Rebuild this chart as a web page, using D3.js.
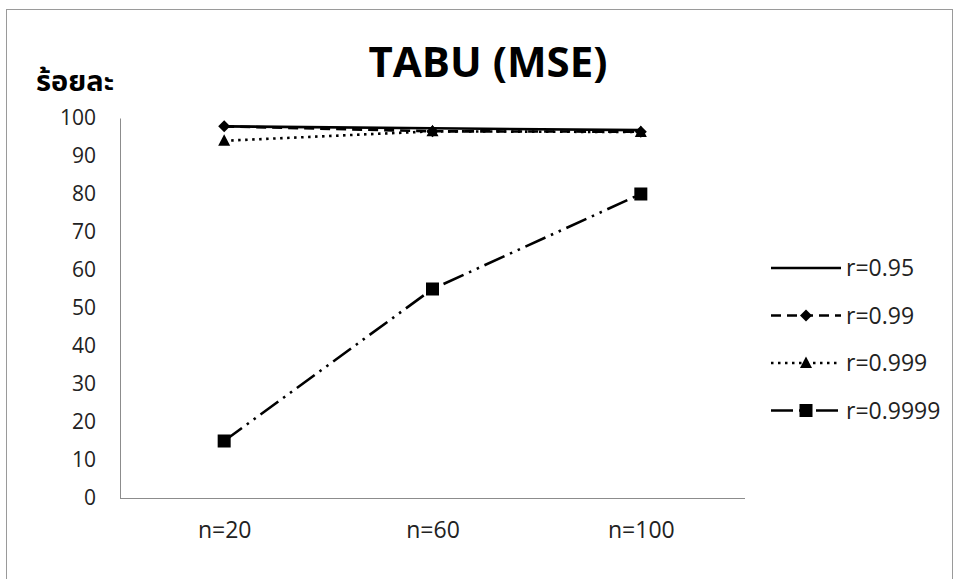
<!DOCTYPE html>
<html>
<head>
<meta charset="utf-8">
<script src="https://cdn.jsdelivr.net/npm/d3@7/dist/d3.min.js"></script>
<style>
  html, body { margin: 0; padding: 0; background: #fff; }
  svg text { font-family: "Segoe UI", "Open Sans", "Noto Sans", "Noto Sans Thai", sans-serif; }
</style>
</head>
<body>
<svg id="chart" width="960" height="579"></svg>
<script>
// Sample sizes along the horizontal axis
const categories = ["n=20", "n=60", "n=100"];
// Percentage per correlation level
const seriesNames = ["r=0.95", "r=0.99", "r=0.999", "r=0.9999"];
const r095 = [97.8, 97.3, 96.8];
const r099 = [97.8, 96.5, 96.4];
const r0999 = [94.0, 96.5, 96.3];
const r09999 = [15, 55, 80];
const yTicks = [0, 10, 20, 30, 40, 50, 60, 70, 80, 90, 100];
const titleText = "TABU (MSE)";
const yLabelText = "ร้อยละ";

const seriesValues = [r095, r099, r0999, r09999];
const styles = [
  { dash: null, marker: null },
  { dash: "10,6", marker: "diamond" },
  { dash: "2.5,4.5", marker: "triangle" },
  { dash: "22,6,2.5,6,2.5,6", marker: "square" }
];

const svg = d3.select("#chart");

// chart frame
svg.append("rect")
  .attr("x", 6.5).attr("y", 9.5)
  .attr("width", 946).attr("height", 580)
  .attr("fill", "#fff").attr("stroke", "#9a9a9a").attr("stroke-width", 1);

const plot = { left: 120, right: 745, top: 118, bottom: 498 };

const x = d3.scalePoint().domain(categories)
  .range([plot.left, plot.right]).padding(0.5);
const y = d3.scaleLinear().domain([0, 100]).range([plot.bottom, plot.top]);

const yTickFont = 21;
const labelFont = 23;

// y axis
const yAxis = svg.append("g")
  .attr("transform", `translate(${plot.left},0)`)
  .call(d3.axisLeft(y).tickValues(yTicks).tickSize(0).tickPadding(24));
yAxis.select(".domain").attr("stroke", "#8c8c8c").attr("stroke-width", 1);
yAxis.selectAll("text").attr("font-size", yTickFont).attr("fill", "#222");

// x axis
const xAxis = svg.append("g")
  .attr("transform", `translate(0,${plot.bottom})`)
  .call(d3.axisBottom(x).tickSize(0).tickPadding(24));
xAxis.select(".domain").attr("stroke", "#8c8c8c").attr("stroke-width", 1)
  .attr("d", `M${plot.left},0.5H${plot.right}`);
xAxis.selectAll("text").attr("font-size", labelFont).attr("fill", "#222");

// title and axis caption
svg.append("text")
  .attr("x", 488).attr("y", 77)
  .attr("text-anchor", "middle")
  .attr("font-size", 42).attr("font-weight", "bold").attr("fill", "#000")
  .text(titleText);
svg.append("text")
  .attr("x", 36).attr("y", 91)
  .attr("font-size", 29).attr("font-weight", "bold").attr("fill", "#000")
  .text(yLabelText);

function drawMarker(g, type, cx, cy) {
  if (type === "diamond") {
    g.append("path")
      .attr("d", `M${cx},${cy - 6}L${cx + 6},${cy}L${cx},${cy + 6}L${cx - 6},${cy}Z`)
      .attr("fill", "#000");
  } else if (type === "triangle") {
    g.append("path")
      .attr("d", `M${cx},${cy - 6.5}L${cx + 6},${cy + 5}L${cx - 6},${cy + 5}Z`)
      .attr("fill", "#000");
  } else if (type === "square") {
    g.append("rect")
      .attr("x", cx - 6.5).attr("y", cy - 6.5)
      .attr("width", 13).attr("height", 13)
      .attr("fill", "#000");
  }
}

const line = d3.line()
  .x((d, i) => x(categories[i]))
  .y(d => y(d));

// series, drawn back to front
[3, 2, 1, 0].forEach(si => {
  const g = svg.append("g");
  g.append("path")
    .attr("d", line(seriesValues[si]))
    .attr("fill", "none")
    .attr("stroke", "#000")
    .attr("stroke-width", 2.6)
    .attr("stroke-dasharray", styles[si].dash);
  seriesValues[si].forEach((v, i) => drawMarker(g, styles[si].marker, x(categories[i]), y(v)));
});

// legend
const legend = svg.append("g");
seriesNames.forEach((name, i) => {
  const cy = 268 + i * 47.5;
  const g = legend.append("g");
  g.append("line")
    .attr("x1", 771).attr("x2", 841)
    .attr("y1", cy).attr("y2", cy)
    .attr("stroke", "#000").attr("stroke-width", 2.6)
    .attr("stroke-dasharray", styles[i].dash);
  drawMarker(g, styles[i].marker, 806, cy);
  g.append("text")
    .attr("x", 846).attr("y", cy + 8)
    .attr("font-size", labelFont).attr("fill", "#222")
    .text(name);
});
</script>
</body>
</html>
